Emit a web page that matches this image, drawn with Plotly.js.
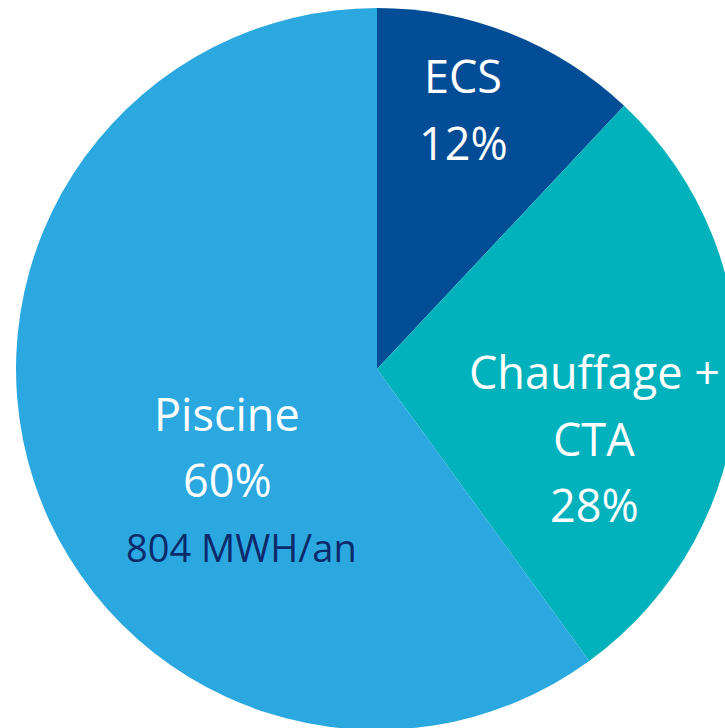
<!DOCTYPE html>
<html>
<head>
<meta charset="utf-8">
<script src="https://cdn.plot.ly/plotly-3.0.1.min.js"></script>
<style>
html,body{margin:0;padding:0;width:725px;height:728px;overflow:hidden;background:#fff;}
#chart{position:absolute;left:16px;top:8px;width:722px;height:722px;}
</style>
</head>
<body>
<div id="chart"></div>
<script>
const categories = ["ECS", "Chauffage +<br>CTA", "Piscine"];
const labelLines = [["ECS"], ["Chauffage +", "CTA"], ["Piscine"]];
const values = [12, 28, 60];
const colors = ["#034D96", "#01B2BD", "#2CA8E0"];
const extraNote = "804 MWH/an";

// label anchor centers (in window pixels) for each slice's first line
const labelPos = [[463, 76], [594, 372], [227, 413]];
const lineStep = 66;

const W = 722, H = 722, OX = 16, OY = 8;
const px = x => (x - OX) / W;
const py = y => 1 - (y - OY) / H;

const FONT = "Open Sans";
const annotations = [];
labelLines.forEach((lines, i) => {
  const [cx, cy] = labelPos[i];
  const all = lines.concat([values[i] + "%"]);
  all.forEach((t, j) => {
    annotations.push({
      text: t, xref: "paper", yref: "paper",
      x: px(cx), y: py(cy + j * lineStep),
      xanchor: "center", yanchor: "middle", showarrow: false,
      font: {family: FONT, size: 45, color: "#ffffff"}
    });
  });
});
annotations.push({
  text: extraNote, xref: "paper", yref: "paper",
  x: px(241), y: py(547), xanchor: "center", yanchor: "middle", showarrow: false,
  font: {family: FONT, size: 38, color: "#0B2A6B"}
});

Plotly.newPlot("chart", [{
  type: "pie",
  labels: categories,
  values: values,
  sort: false,
  direction: "clockwise",
  rotation: 0,
  marker: {colors: colors, line: {width: 0}},
  textinfo: "none",
  hoverinfo: "label+percent",
  domain: {x: [0, 1], y: [0, 1]}
}], {
  width: W, height: H,
  margin: {l: 0, r: 0, t: 0, b: 0, pad: 0},
  showlegend: false,
  paper_bgcolor: "rgba(0,0,0,0)",
  plot_bgcolor: "rgba(0,0,0,0)",
  annotations: annotations
}, {displayModeBar: false, staticPlot: true});
</script>
</body>
</html>
